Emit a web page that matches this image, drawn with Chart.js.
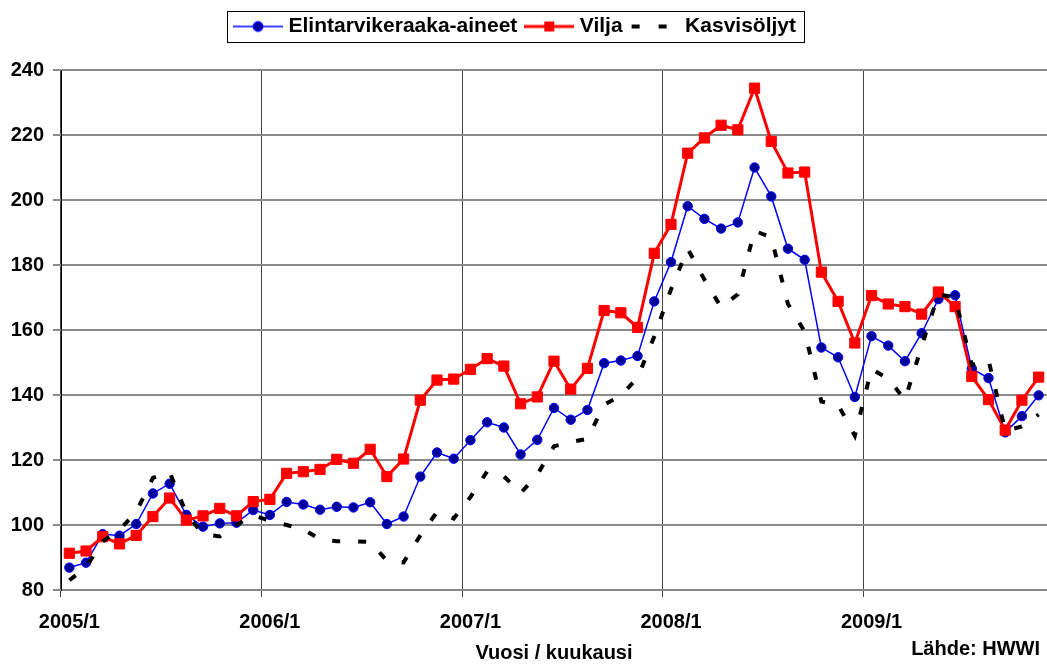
<!DOCTYPE html>
<html>
<head>
<meta charset="utf-8">
<title>Elintarvikeraaka-aineiden hinnat</title>
<script src="https://cdn.jsdelivr.net/npm/chart.js@4.4.1/dist/chart.umd.min.js"></script>
<style>
  html, body { margin: 0; padding: 0; background: #fff; }
  #wrap { width: 1047px; height: 665px; }
</style>
</head>
<body>
<div id="wrap"><canvas id="chart" width="1047" height="665"></canvas></div>
<script>
// kuukaudet 2005/1 - 2009/11
const months = [
  "2005/1","2005/2","2005/3","2005/4","2005/5","2005/6","2005/7","2005/8","2005/9","2005/10","2005/11","2005/12",
  "2006/1","2006/2","2006/3","2006/4","2006/5","2006/6","2006/7","2006/8","2006/9","2006/10","2006/11","2006/12",
  "2007/1","2007/2","2007/3","2007/4","2007/5","2007/6","2007/7","2007/8","2007/9","2007/10","2007/11","2007/12",
  "2008/1","2008/2","2008/3","2008/4","2008/5","2008/6","2008/7","2008/8","2008/9","2008/10","2008/11","2008/12",
  "2009/1","2009/2","2009/3","2009/4","2009/5","2009/6","2009/7","2009/8","2009/9","2009/10","2009/11"
];

// näytettävät akselin otsikot (vuoden vaihde)
const yearTicks = ["2005/1", "2006/1", "2007/1", "2008/1", "2009/1"];

const elintarvike = [
  86.9, 88.4, 97.2, 96.7, 100.3, 109.7, 112.7, 103.1, 99.5, 100.5, 100.7, 104.6,
  103.1, 107.1, 106.3, 104.7, 105.6, 105.4, 107.0, 100.3, 102.6, 114.9, 122.3, 120.4,
  126.1, 131.6, 130.0, 121.7, 126.2, 136.0, 132.4, 135.4, 149.8, 150.6, 152.0, 168.8,
  180.9, 198.1, 194.2, 191.2, 193.1, 210.0, 201.1, 185.0, 181.6, 154.6, 151.6, 139.4,
  158.1, 155.2, 150.4, 159.0, 169.5, 170.7, 148.1, 145.2, 128.5, 133.5, 139.9
];

const vilja = [
  91.3, 92.0, 96.4, 94.2, 96.8, 102.6, 108.3, 101.5, 102.8, 105.1, 102.8, 107.2,
  107.9, 115.9, 116.4, 117.1, 120.2, 119.0, 123.3, 114.9, 120.3, 138.4, 144.6, 144.9,
  147.9, 151.2, 148.9, 137.3, 139.4, 150.4, 141.8, 148.2, 166.0, 165.3, 160.8, 183.6,
  192.5, 214.4, 219.1, 223.0, 221.6, 234.4, 218.0, 208.3, 208.6, 177.8, 168.8, 156.0,
  170.6, 168.0, 167.2, 164.9, 171.7, 167.2, 145.7, 138.6, 129.2, 138.4, 145.5
];

const kasvisoljyt = [
  83.0, 87.0, 95.0, 98.5, 104.0, 114.5, 116.3, 103.5, 97.2, 96.5, 100.0, 103.0,
  101.3, 100.0, 98.7, 95.6, 95.0, 95.0, 94.8, 89.0, 88.5, 96.8, 104.0, 102.0,
  108.6, 116.5, 115.0, 109.8, 115.5, 124.2, 125.5, 126.5, 137.0, 139.8, 145.3, 158.0,
  172.5, 185.0, 175.5, 167.0, 171.0, 190.5, 188.5, 168.0, 159.5, 138.0, 137.0, 127.5,
  148.0, 145.0, 138.5, 155.0, 171.0, 170.0, 149.3, 150.8, 129.0, 130.3, 134.0
];

const FONT = "'Liberation Sans', Arial, sans-serif";
Chart.defaults.font.family = FONT;
Chart.defaults.font.weight = "bold";
Chart.defaults.color = "#000";

// legendan viivanäytteet piirretään pieniksi kuviksi
function legendSample(draw){
    const c = document.createElement("canvas");
    c.width = 50;
    c.height = 20;
    draw(c.getContext("2d"));
    return c;
}

const samples = [
    legendSample(g => {
        g.strokeStyle = "#0000ff";
        g.lineWidth = 1.5;
        g.beginPath(); g.moveTo(0, 10); g.lineTo(50, 10); g.stroke();
        g.fillStyle = "#000099";
        g.beginPath(); g.arc(25, 10, 4.7, 0, Math.PI * 2); g.fill(); g.stroke();
    }),
    legendSample(g => {
        g.strokeStyle = "#ff0000";
        g.lineWidth = 3;
        g.beginPath(); g.moveTo(0, 10); g.lineTo(50, 10); g.stroke();
        g.fillStyle = "#ff0000";
        g.fillRect(20, 5, 10, 10);
    }),
    legendSample(g => {
        g.strokeStyle = "#000";
        g.lineWidth = 4;
        g.setLineDash([8, 19]);
        g.beginPath(); g.moveTo(2, 10); g.lineTo(50, 10); g.stroke();
    })
];

// legenda hieman vasemmalle, kuten alkuperäisessä
const legendShift = {
    id: "legendShift",
    afterLayout(chart){
        if(chart.legend) chart.legend.right -= 13;
    }
};

const legendFrame = {
    id: "legendFrame",
    afterDraw(chart){
        const boxes = chart.legend && chart.legend.legendHitBoxes;
        if(!boxes || !boxes.length) return;
        const left = Math.min(...boxes.map(b => b.left)) - 11;
        const right = Math.max(...boxes.map(b => b.left + b.width)) + 8;
        const top = boxes[0].top - 5;
        const bottom = boxes[0].top + boxes[0].height + 5;
        const ctx = chart.ctx;
        ctx.save();
        ctx.strokeStyle = "#000";
        ctx.lineWidth = 1;
        ctx.strokeRect(Math.round(left) + 0.5, Math.round(top) + 0.5, Math.round(right - left), Math.round(bottom - top));
        ctx.restore();
    }
};

const sourceNote = {
    id: "sourceNote",
    afterDraw(chart){
        const ctx = chart.ctx;
        ctx.save();
        ctx.font = "bold 20px " + FONT;
        ctx.fillStyle = "#000";
        ctx.textAlign = "right";
        ctx.textBaseline = "middle";
        ctx.fillText("Lähde: HWWI", chart.width - 7, 649);
        ctx.restore();
    }
};

const isYearStart = (ctx) => yearTicks.includes(months[ctx.index]);

new Chart(document.getElementById("chart"), {
    type: "line",
    data: {
        labels: months,
        datasets: [{
            label: "Elintarvikeraaka-aineet",
            data: elintarvike,
            borderColor: "#0000ff",
            borderWidth: 1.5,
            pointRadius: 4.7,
            pointBackgroundColor: "#000099",
            pointBorderColor: "#0000ff",
            pointBorderWidth: 1,
            tension: 0,
            order: 3
        }, {
            label: "Vilja",
            data: vilja,
            borderColor: "#ff0000",
            borderWidth: 3,
            pointStyle: "rect",
            pointRadius: 7.2,
            pointBackgroundColor: "#ff0000",
            pointBorderColor: "#ff0000",
            pointBorderWidth: 1,
            tension: 0,
            order: 2
        }, {
            label: "Kasvisöljyt",
            data: kasvisoljyt,
            borderColor: "#000",
            borderWidth: 4,
            borderDash: [8, 18],
            borderCapStyle: "butt",
            pointRadius: 0,
            tension: 0,
            order: 1
        }]
    },
    options: {
        responsive: false,
        animation: false,
        events: [],
        layout: { autoPadding: false, padding: { top: 4, left: 0, right: 0, bottom: 0 } },
        plugins: {
            tooltip: { enabled: false },
            legend: {
                position: "top",
                labels: {
                    usePointStyle: true,
                    pointStyleWidth: 40,
                    padding: 12,
                    font: { size: 21, weight: "bold" },
                    generateLabels: (chart) => chart.data.datasets.map((ds, i) => ({
                        text: ds.label,
                        pointStyle: samples[i],
                        datasetIndex: i,
                        hidden: false,
                        lineWidth: 0,
                        fillStyle: "transparent",
                        strokeStyle: "transparent",
                        fontColor: "#000"
                    }))
                }
            },
            // tyhjä väli legendan ja kuvaajan välissä
            subtitle: {
                display: true,
                text: "",
                weight: 500,
                padding: 0,
                font: { size: 10, lineHeight: "23px" }
            }
        },
        scales: {
            x: {
                offset: true,
                afterFit: (scale) => {
                    scale.height = 75;
                    scale.paddingLeft = 0;
                    scale.paddingRight = 0;
                },
                grid: {
                    offset: true,
                    color: (ctx) => isYearStart(ctx) ? "#444" : "transparent",
                    tickColor: (ctx) => isYearStart(ctx) ? "#444" : "transparent",
                    lineWidth: 1,
                    tickLength: 7
                },
                border: { color: "#888", width: 2 },
                ticks: {
                    autoSkip: false,
                    maxRotation: 0,
                    minRotation: 0,
                    padding: 13,
                    font: { size: 20, weight: "bold" },
                    callback: function(value, index){
                        const label = months[index];
                        return yearTicks.includes(label) ? label : "";
                    }
                },
                title: {
                    display: true,
                    text: "Vuosi / kuukausi",
                    padding: { top: 0, bottom: 0 },
                    font: { size: 20, weight: "bold" }
                }
            },
            y: {
                min: 80,
                max: 240,
                afterFit: (scale) => { scale.width = 61; },
                grid: {
                    color: "#8a8a8a",
                    lineWidth: 2,
                    tickLength: 8
                },
                border: { color: "#000", width: 1 },
                ticks: {
                    stepSize: 20,
                    padding: 9,
                    font: { size: 20, weight: "bold" }
                }
            }
        }
    },
    plugins: [legendShift, legendFrame, sourceNote]
});
</script>
</body>
</html>
